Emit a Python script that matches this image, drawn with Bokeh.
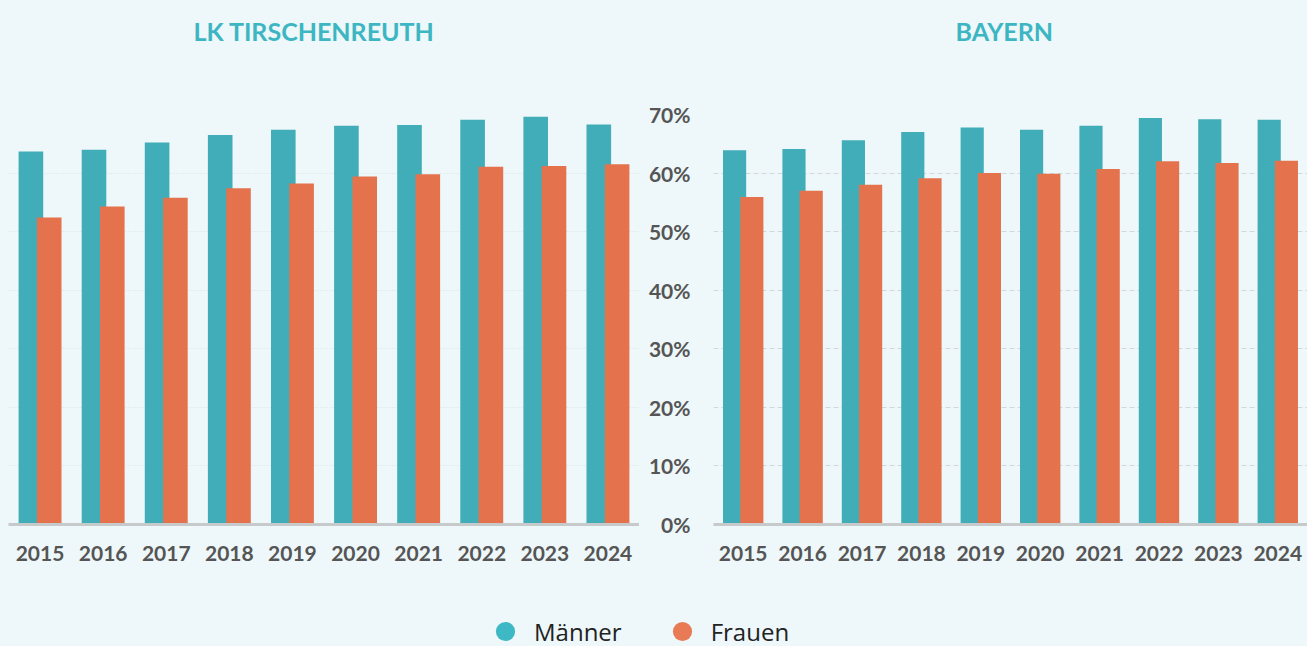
from bokeh.plotting import figure
from bokeh.models import (ColumnDataSource, FactorRange, Range1d, FixedTicker,
                          PrintfTickFormatter, Title, Legend, LegendItem)
from bokeh.transform import dodge
from bokeh.layouts import row, column
from bokeh.embed import file_html
from bokeh.resources import INLINE

years = ["2015", "2016", "2017", "2018", "2019", "2020", "2021", "2022", "2023", "2024"]
tir_maenner = [63.7, 64.0, 65.2, 66.5, 67.4, 68.1, 68.2, 69.1, 69.6, 68.3]
tir_frauen = [52.4, 54.3, 55.8, 57.4, 58.2, 59.4, 59.8, 61.1, 61.2, 61.5]
bay_maenner = [63.9, 64.1, 65.6, 67.0, 67.8, 67.4, 68.1, 69.4, 69.2, 69.1]
bay_frauen = [55.9, 57.0, 58.0, 59.1, 60.0, 59.9, 60.7, 62.0, 61.7, 62.1]
y_ticks = [0, 10, 20, 30, 40, 50, 60, 70]
titles = ["LK TIRSCHENREUTH", "BAYERN"]
legend_labels = ["Männer", "Frauen"]

BG = "#eef7f9"
TEAL = "#40adb9"
ORANGE = "#e4734d"
TITLE_C = "#3cb6c2"
LABEL_C = "#555555"
FONT = "Lato"

LEFT_W, RIGHT_W = 639, 668
LEFT_B, RIGHT_B = 8, 74


def blank(p):
    p.background_fill_color = BG
    p.border_fill_color = BG
    p.outline_line_color = None
    p.xgrid.visible = False
    p.ygrid.visible = False


def make_header(title, width, border_left, offset):
    h = figure(width=width, height=52, output_backend="svg", toolbar_location=None,
               x_axis_location=None, y_axis_location=None,
               x_range=Range1d(0, 1), y_range=Range1d(0, 1),
               min_border_left=border_left, min_border_right=0,
               min_border_top=50, min_border_bottom=0)
    blank(h)
    t = Title(text=title, align="left", offset=offset, standoff=10,
              text_font=FONT, text_font_style="bold", text_font_size="25px",
              text_color=TITLE_C)
    h.add_layout(t, "above")
    return h


def make_chart(m_vals, f_vals, width, show_y, grid_dash, grid_color, border_left):
    src = ColumnDataSource(dict(year=years, m=m_vals, f=f_vals))
    p = figure(x_range=FactorRange(factors=years), y_range=Range1d(0, 70),
               width=width, height=532, output_backend="svg", toolbar_location=None,
               y_axis_location="left" if show_y else None,
               min_border_left=border_left, min_border_right=0,
               min_border_top=62, min_border_bottom=60)
    p.background_fill_color = BG
    p.border_fill_color = BG
    p.outline_line_color = None
    p.vbar(x=dodge("year", -0.145, range=p.x_range), top="m", width=0.39, source=src,
           fill_color=TEAL, line_color=None)
    p.vbar(x=dodge("year", 0.145, range=p.x_range), top="f", width=0.39, source=src,
           fill_color=ORANGE, line_color=None)
    p.xgrid.visible = False
    p.ygrid.ticker = FixedTicker(ticks=y_ticks)
    p.ygrid.grid_line_color = grid_color
    p.ygrid.grid_line_dash = grid_dash
    p.ygrid.grid_line_width = 1
    xa = p.xaxis[0]
    xa.axis_line_color = "#c6cacb"
    xa.axis_line_width = 3
    xa.major_tick_line_color = None
    xa.minor_tick_line_color = None
    xa.major_label_standoff = 15
    xa.major_label_text_font = FONT
    xa.major_label_text_font_style = "bold"
    xa.major_label_text_font_size = "21px"
    xa.major_label_text_color = LABEL_C
    if show_y:
        ya = p.yaxis[0]
        ya.ticker = FixedTicker(ticks=y_ticks)
        ya.formatter = PrintfTickFormatter(format="%d%%")
        ya.axis_line_color = None
        ya.major_tick_line_color = None
        ya.minor_tick_line_color = None
        ya.major_label_standoff = 17
        ya.major_label_text_font = FONT
        ya.major_label_text_font_style = "bold"
        ya.major_label_text_font_size = "21px"
        ya.major_label_text_color = LABEL_C
    return p


head_left = make_header(titles[0], LEFT_W, LEFT_B, 185)
head_right = make_header(titles[1], RIGHT_W, RIGHT_B, 242)
left = make_chart(tir_maenner, tir_frauen, LEFT_W, False, "1 2", "#d9e1e4", LEFT_B)
right = make_chart(bay_maenner, bay_frauen, RIGHT_W, True, "5 3", "#d2d8da", RIGHT_B)

leg = figure(width=LEFT_W + RIGHT_W, height=62, output_backend="svg", toolbar_location=None,
             x_axis_location=None, y_axis_location=None,
             x_range=Range1d(0, 1), y_range=Range1d(0, 1),
             min_border_left=0, min_border_right=0, min_border_top=0, min_border_bottom=0)
blank(leg)
nan = float("nan")
r1 = leg.scatter(x=[nan], y=[nan], marker="circle", size=19, fill_color="#3db8c4", line_color=None)
r2 = leg.scatter(x=[nan], y=[nan], marker="circle", size=19, fill_color="#e87a56", line_color=None)
legend = Legend(items=[LegendItem(label=legend_labels[0], renderers=[r1]),
                       LegendItem(label=legend_labels[1], renderers=[r2])],
                orientation="horizontal", location=(481, -9),
                glyph_width=48, glyph_height=48, label_standoff=5, spacing=36,
                padding=0, margin=0, border_line_color=None, background_fill_alpha=0,
                label_text_font="Open Sans", label_text_font_size="24px",
                label_text_color="#222222")
leg.add_layout(legend, "center")

layout = column(row(head_left, head_right), row(left, right), leg)

html = file_html(layout, INLINE)
html = html.replace("<head>", "<head><style>body{background:%s;}</style>" % BG, 1)
open("out.html", "w").write(html)
